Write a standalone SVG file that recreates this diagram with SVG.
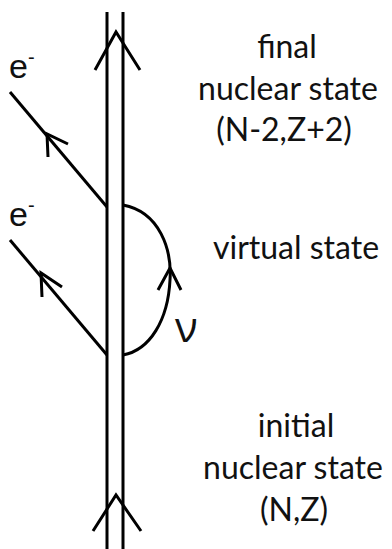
<svg xmlns="http://www.w3.org/2000/svg" width="392" height="549" viewBox="0 0 392 549">
<style>
.ln{fill:none;stroke:#000;stroke-width:3;stroke-linecap:butt;stroke-linejoin:miter}
.t{font-family:Lato,"Open Sans",sans-serif;font-size:32px;fill:#111;text-anchor:middle}
.e{font-family:"Liberation Sans",Arial,sans-serif;font-size:34px;fill:#111}
</style>
<rect width="392" height="549" fill="#fff"/>
<g id="connectors">
<g id="nucleus-line">
<line class="ln" x1="107" y1="12" x2="107" y2="549"/>
<line class="ln" x1="123" y1="12" x2="123" y2="549"/>
<polyline class="ln" points="95,70 116,32 140,70"/>
<polyline class="ln" points="93,531 116,495 141,531"/>
</g>
<g id="electron-1">
<line class="ln" x1="10" y1="92" x2="107" y2="207"/>
<polyline class="ln" points="48,157 47,134 68,144"/>
</g>
<g id="electron-2">
<line class="ln" x1="10" y1="240" x2="107" y2="355"/>
<polyline class="ln" points="42,297 41,273 62,287"/>
</g>
<g id="neutrino">
<path class="ln" d="M123,205 C160,212 172,250 170,280 C168,320 150,350 123,355"/>
<polyline class="ln" points="158,290 170,268 181,290"/>
</g>
</g>
<g id="final-state">
<text class="t" x="287" y="58">final</text>
<text class="t" x="288" y="100">nuclear state</text>
<text class="t" x="284" y="141">(N-2,Z+2)</text>
</g>
<g id="virtual-state">
<text class="t" x="296" y="259">virtual state</text>
</g>
<g id="initial-state">
<text class="t" x="296" y="437">initial</text>
<text class="t" x="293" y="479">nuclear state</text>
<text class="t" x="294" y="521">(N,Z)</text>
</g>
<g id="labels">
<text class="e" x="9" y="78">e<tspan font-size="20" dy="-14">-</tspan></text>
<text class="e" x="9" y="226">e<tspan font-size="20" dy="-14">-</tspan></text>
<text x="175" y="342" font-family="'Open Sans',sans-serif" font-size="42" fill="#111">ν</text>
</g>
</svg>
